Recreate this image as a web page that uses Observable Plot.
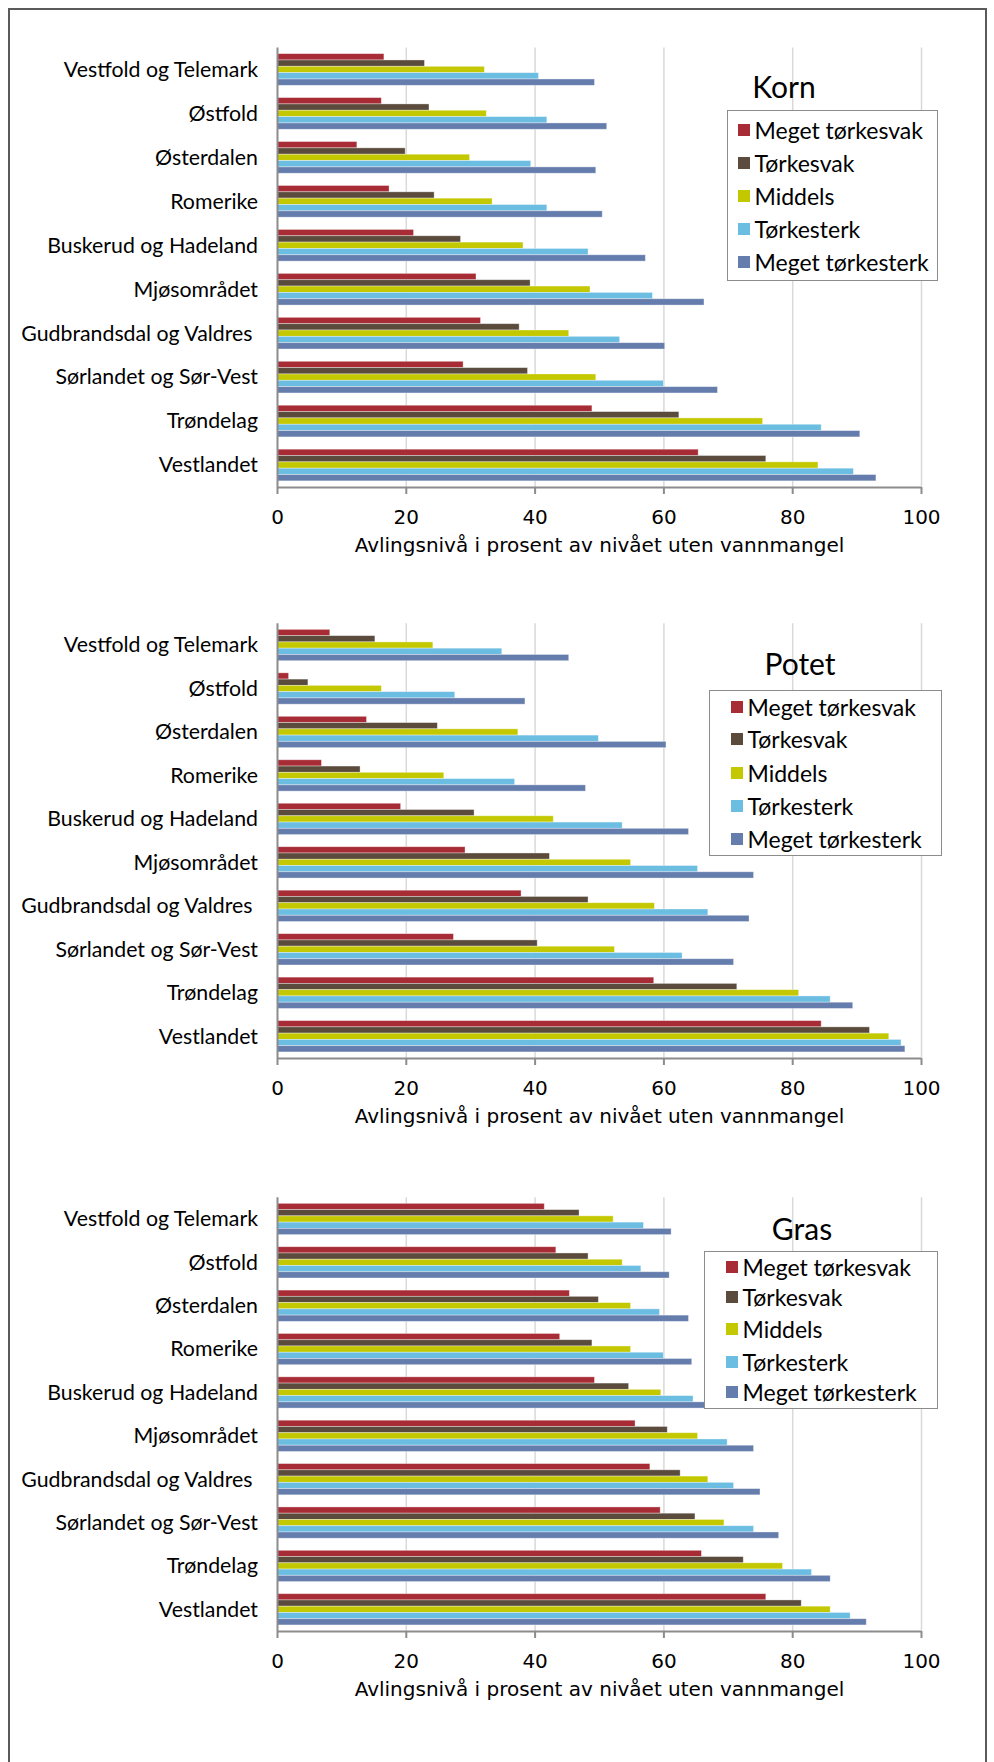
<!DOCTYPE html>
<html>
<head>
<meta charset="utf-8">
<script src="https://cdn.jsdelivr.net/npm/d3@7"></script>
<script src="https://cdn.jsdelivr.net/npm/@observablehq/plot@0.6"></script>
<style>
  html, body { margin: 0; padding: 0; background: #fff; overflow: hidden; }
  #page { position: relative; width: 994px; height: 1762px; overflow: hidden; font-family: Lato, "Noto Sans", sans-serif; color: #000; }
  #border { position: absolute; left: 8px; top: 8px; width: 979px; height: 1800px; border: 2px solid #5a5a5a; box-sizing: border-box; }
  .chart { position: absolute; left: 0; }
  .chart svg text { white-space: pre; }
  .ctitle { position: absolute; font-size: 30px; transform: translate(-50%, -50%); white-space: nowrap; }
  .legend { position: absolute; background: #fff; border: 1.5px solid #8c8c8c; box-sizing: border-box; }
  .item { position: absolute; white-space: nowrap; font-size: 23px; line-height: 1; }
  .sw { position: absolute; width: 12px; height: 12px; }
  .lab { transform: translateY(-50%); }
</style>
</head>
<body>
<div id="page">
  <div id="border"></div>
</div>
<script>
// ---------- data ----------
const regions = [
  "Vestfold og Telemark", "Østfold", "Østerdalen", "Romerike", "Buskerud og Hadeland",
  "Mjøsområdet", "Gudbrandsdal og Valdres ", "Sørlandet og Sør-Vest", "Trøndelag", "Vestlandet"
];
const seriesNames = ["Meget tørkesvak", "Tørkesvak", "Middels", "Tørkesterk", "Meget tørkesterk"];
const seriesColors = ["#a82c35", "#5a4b3c", "#c3c800", "#6cbde2", "#657dad"];
const xTicks = [0, 20, 40, 60, 80, 100];
const xTitle = "Avlingsnivå i prosent av nivået uten vannmangel";
const cropTitles = ["Korn", "Potet", "Gras"];

// Korn
const kornMegetTorkesvak  = [16.6, 16.2, 12.4, 17.4, 21.2, 30.9, 31.6, 28.9, 48.9, 65.4];
const kornTorkesvak       = [22.9, 23.6, 19.9, 24.4, 28.5, 39.3, 37.6, 38.9, 62.4, 75.9];
const kornMiddels         = [32.2, 32.5, 29.9, 33.4, 38.2, 48.6, 45.3, 49.5, 75.4, 84.0];
const kornTorkesterk      = [40.6, 41.9, 39.4, 41.9, 48.3, 58.3, 53.2, 60.0, 84.5, 89.5];
const kornMegetTorkesterk = [49.3, 51.2, 49.5, 50.5, 57.2, 66.3, 60.2, 68.4, 90.5, 93.0];

// Potet
const potetMegetTorkesvak  = [8.2, 1.8, 13.9, 6.9, 19.2, 29.2, 37.9, 27.4, 58.5, 84.5];
const potetTorkesvak       = [15.2, 4.8, 24.9, 12.9, 30.6, 42.3, 48.3, 40.4, 71.4, 92.0];
const potetMiddels         = [24.2, 16.2, 37.4, 25.9, 42.9, 54.9, 58.6, 52.4, 81.0, 95.0];
const potetTorkesterk      = [34.9, 27.6, 49.9, 36.9, 53.6, 65.3, 66.9, 62.9, 85.9, 96.9];
const potetMegetTorkesterk = [45.3, 38.5, 60.4, 47.9, 63.9, 74.0, 73.3, 70.9, 89.4, 97.5];

// Gras
const grasMegetTorkesvak  = [41.5, 43.3, 45.4, 43.9, 49.3, 55.6, 57.9, 59.5, 65.9, 75.9];
const grasTorkesvak       = [46.9, 48.3, 49.9, 48.9, 54.6, 60.6, 62.6, 64.9, 72.4, 81.4];
const grasMiddels         = [52.2, 53.6, 54.9, 54.9, 59.6, 65.3, 66.9, 69.4, 78.5, 85.9];
const grasTorkesterk      = [56.9, 56.5, 59.4, 60.0, 64.6, 69.9, 70.9, 74.0, 83.0, 89.0];
const grasMegetTorkesterk = [61.2, 60.9, 63.9, 64.4, 69.0, 74.0, 75.0, 77.9, 85.9, 91.5];

// ---------- layout ----------
const charts = [
  { title: cropTitles[0],
    values: [kornMegetTorkesvak, kornTorkesvak, kornMiddels, kornTorkesterk, kornMegetTorkesterk],
    top: 0, height: 570, marginTop: 47.5, marginBottom: 83,
    titlePos: [784, 86],
    legend: { left: 727, top: 110, width: 211, height: 171, sw: 11, txt: 28, rows: [20, 53, 86, 119, 152] } },
  { title: cropTitles[1],
    values: [potetMegetTorkesvak, potetTorkesvak, potetMiddels, potetTorkesterk, potetMegetTorkesterk],
    top: 570, height: 570, marginTop: 53.3, marginBottom: 82,
    titlePos: [800, 663],
    legend: { left: 709, top: 690, width: 233, height: 166, sw: 22, txt: 39, rows: [17, 49, 83, 116, 149] } },
  { title: cropTitles[2],
    values: [grasMegetTorkesvak, grasTorkesvak, grasMiddels, grasTorkesterk, grasMegetTorkesterk],
    top: 1140, height: 622, marginTop: 57.3, marginBottom: 131,
    titlePos: [802, 1228],
    legend: { left: 704, top: 1251, width: 234, height: 158, sw: 22, txt: 39, rows: [16, 46, 78, 111, 141] } }
];

const page = document.getElementById("page");
const labelFont = "Lato, 'Noto Sans', sans-serif";
const axisFont = "'DejaVu Sans', Verdana, sans-serif";

charts.forEach(c => {
  const n = regions.length;
  const pInner = 0.279, pOuter = pInner / 2;
  const plotH = c.height - c.marginTop - c.marginBottom;
  const step = plotH / n;
  const barH = step * (1 - pInner) / seriesNames.length;

  const rows = [];
  seriesNames.forEach((s, i) => regions.forEach((r, j) =>
    rows.push({ region: r, series: s, value: c.values[i][j], i })));

  const marks = [
    Plot.gridX(xTicks.slice(1), { stroke: "#d9d9d9", strokeOpacity: 1, strokeWidth: 1.5 })
  ];
  seriesNames.forEach((s, i) => {
    marks.push(Plot.barX(rows.filter(d => d.i === i), {
      x: "value", y: "region", fill: "series",
      insetTop: i * barH, insetBottom: (seriesNames.length - 1 - i) * barH,
      stroke: "#ffffff", strokeOpacity: 0.45, strokeWidth: 0.8
    }));
  });
  marks.push(
    Plot.ruleX([0], { stroke: "#8c8c8c", strokeWidth: 2 }),
    Plot.ruleY([regions[n - 1]], { dy: step / 2, stroke: "#8c8c8c", strokeWidth: 2 }),
    Plot.axisX({ ticks: xTicks, tickSize: 7, tickPadding: 15, fontSize: 20, fontFamily: axisFont,
                 stroke: "#8c8c8c", strokeWidth: 2, fill: "#000", label: null, tickFormat: d => String(d) }),
    Plot.axisY({ tickSize: 0, tickPadding: 19.5, fontSize: 21.3, fontFamily: labelFont, fill: "#000", label: null }),
    Plot.text([xTitle], { text: d => d, frameAnchor: "bottom", dy: 64, fontSize: 20, fontFamily: axisFont, fill: "#000" })
  );

  const svg = Plot.plot({
    width: 994,
    height: c.height,
    marginTop: c.marginTop,
    marginBottom: c.marginBottom,
    marginLeft: 277,
    marginRight: 73,
    style: { fontFamily: labelFont, background: "transparent", color: "#000" },
    x: { domain: [0, 100], label: null },
    y: { type: "band", domain: regions, paddingInner: pInner, paddingOuter: pOuter, round: false, label: null },
    color: { domain: seriesNames, range: seriesColors },
    marks
  });

  const holder = document.createElement("div");
  holder.className = "chart";
  holder.style.top = c.top + "px";
  holder.appendChild(svg);
  page.appendChild(holder);

  // chart title
  const t = document.createElement("div");
  t.className = "ctitle";
  t.textContent = c.title;
  t.style.left = c.titlePos[0] + "px";
  t.style.top = c.titlePos[1] + "px";
  page.appendChild(t);

  // legend
  const L = c.legend;
  const lg = document.createElement("div");
  lg.className = "legend";
  Object.assign(lg.style, { left: L.left + "px", top: L.top + "px", width: L.width + "px", height: L.height + "px" });
  seriesNames.forEach((s, i) => {
    const sw = document.createElement("div");
    sw.className = "sw";
    Object.assign(sw.style, { left: (L.sw - 1.5) + "px", top: (L.rows[i] - 6 - 1.5) + "px", background: seriesColors[i] });
    lg.appendChild(sw);
    const lab = document.createElement("div");
    lab.className = "lab item";
    lab.textContent = s;
    Object.assign(lab.style, { left: (L.txt - 1.5) + "px", top: (L.rows[i] - 1.5) + "px" });
    lg.appendChild(lab);
  });
  page.appendChild(lg);
});
</script>
</body>
</html>
